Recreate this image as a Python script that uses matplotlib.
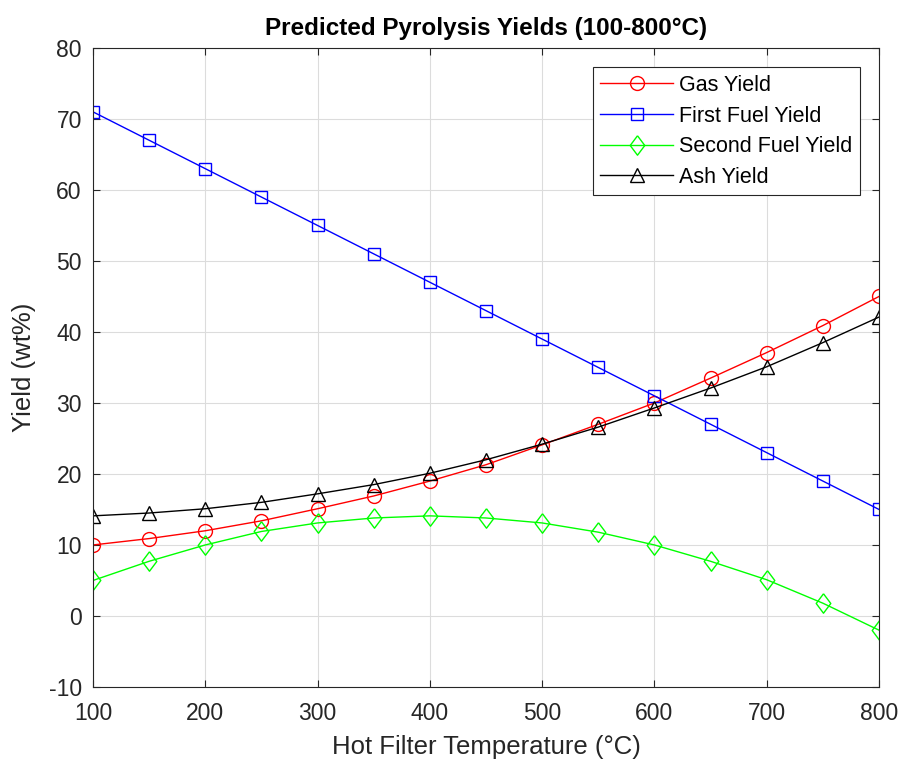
import numpy as np
import matplotlib
matplotlib.use('Agg')
import matplotlib.pyplot as plt

plt.rcParams['font.family'] = ['Liberation Sans', 'DejaVu Sans']
plt.rcParams['axes.unicode_minus'] = False

# Données
temperature = [100, 150, 200, 250, 300, 350, 400, 450, 500, 550, 600, 650, 700, 750, 800]
gas_yield = [10, 10.9, 12, 13.4, 15.1, 16.9, 19, 21.3, 24.1, 27, 30, 33.5, 37.1, 40.9, 45]
first_fuel = [71, 67, 63, 59, 55, 51, 47, 43, 39, 35, 31, 27, 23, 19, 15]
second_fuel = [5, 7.7, 10, 11.9, 13.1, 13.8, 14.1, 13.8, 13.1, 11.8, 10, 7.7, 5.1, 1.8, -2]
ash_yield = [14.1, 14.5, 15.1, 16.0, 17.2, 18.5, 20.1, 22.0, 24.2, 26.6, 29.3, 32.1, 35.1, 38.5, 42.1]

# Losange façon Matlab (plus haut que large)
losange = [(0, 1), (0.75, 0), (0, -1), (-0.75, 0), (0, 1)]

fig = plt.figure(figsize=(9.01, 7.6), dpi=100)
ax = fig.add_axes([0.1032, 0.0961, 0.8724, 0.8408])

ax.plot(temperature, gas_yield, '-o', color='red', mfc='none', ms=10, lw=1, label='Gas Yield')
ax.plot(temperature, first_fuel, '-s', color='blue', mfc='none', ms=8.5, lw=1, label='First Fuel Yield')
ax.plot(temperature, second_fuel, '-', marker=losange, color='lime', mfc='none', ms=14, lw=1,
        label='Second Fuel Yield')
ax.plot(temperature, ash_yield, '-^', color='black', mfc='none', ms=10, lw=1, label='Ash Yield')

ax.set_xlim(100, 800)
ax.set_ylim(-10, 80)
ax.set_xticks(np.arange(100, 801, 100))
ax.set_yticks(np.arange(-10, 81, 10))
ax.grid(True, color='#dcdcdc', lw=0.8)
ax.set_axisbelow(True)
ax.tick_params(direction='in', top=True, right=True, labelsize=16.5, colors='#262626', length=5)
ax.tick_params(axis='x', pad=11)
ax.tick_params(axis='y', pad=8)
for s in ax.spines.values():
    s.set_color('#262626')

ax.set_title('Predicted Pyrolysis Yields (100-800°C)', fontsize=17.5, fontweight='bold', pad=9)
ax.set_xlabel('Hot Filter Temperature (°C)', fontsize=18.5, color='#262626', labelpad=7)
ax.set_ylabel('Yield (wt%)', fontsize=18.5, color='#262626', labelpad=9)

leg = ax.legend(loc='upper right', fontsize=15.5, fancybox=False, edgecolor='#262626',
                framealpha=1, handlelength=3.4, handletextpad=0.25, labelspacing=0.45,
                borderpad=0.35, borderaxespad=0.9)
leg.get_frame().set_linewidth(0.8)

fig.savefig('out.png', dpi=100)
